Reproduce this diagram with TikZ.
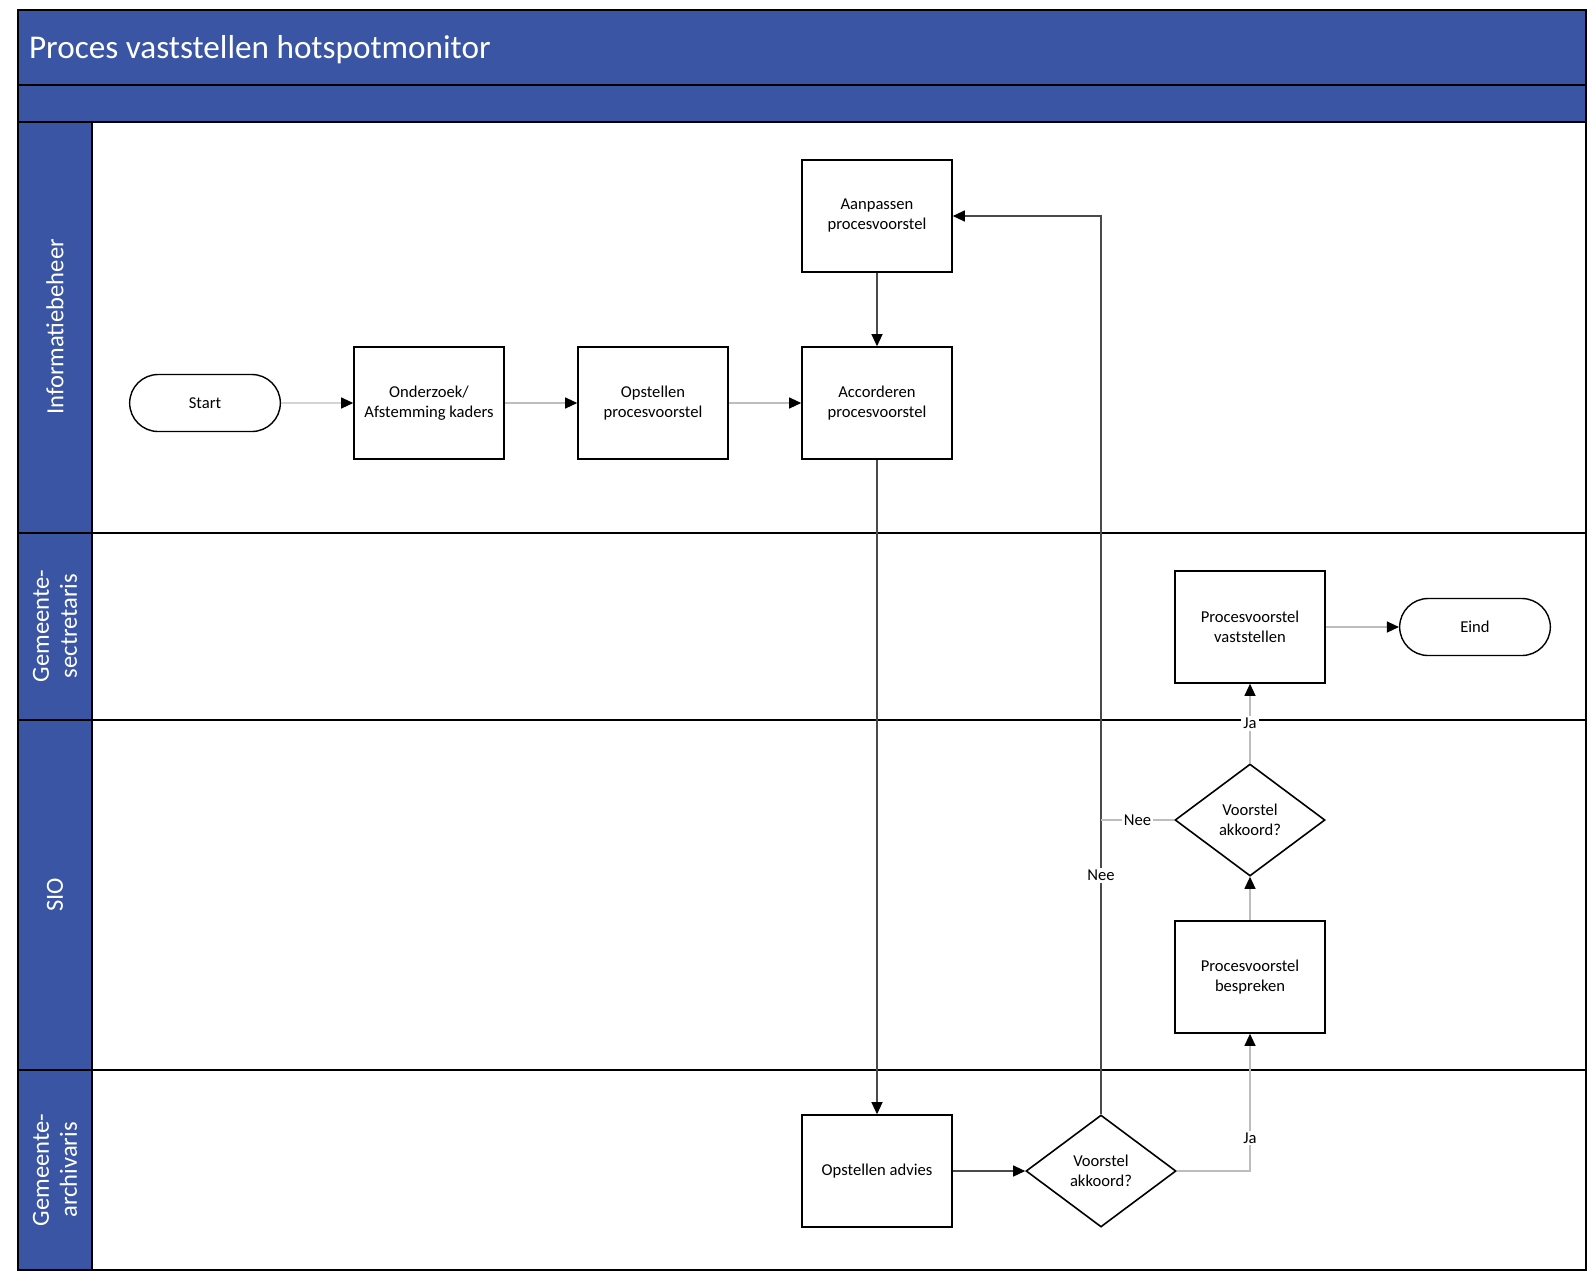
\documentclass[tikz,border=0pt]{standalone}
\usepackage{fontspec}
\setmainfont{Carlito}
\usetikzlibrary{arrows.meta, positioning, shapes.geometric, shapes.misc}
\definecolor{laneblue}{HTML}{3A55A4}
\definecolor{lightline}{HTML}{BDBDBD}
\definecolor{darkline}{HTML}{4A4A4A}

\begin{document}
\begin{tikzpicture}[x=0.5pt, y=-0.5pt,
    procbox/.style={draw, line width=0.8pt, minimum width=75pt, minimum height=56pt, inner sep=1pt, align=center, font=\fontsize{8.3}{10}\selectfont},
    terminal/.style={draw, rounded rectangle, line width=0.7pt, minimum width=82pt, minimum height=28.5pt, font=\fontsize{8.3}{10}\selectfont},
    decision/.style={draw, diamond, aspect=1.34, line width=0.8pt, minimum width=75pt, minimum height=56pt, inner sep=0pt, align=center, font=\fontsize{8.3}{10}\selectfont},
    lanetitle/.style={text=white, rotate=90, align=center, font=\fontsize{12.3}{14}\selectfont},
    flow/.style={lightline, line width=0.6pt, -{Triangle[length=6pt, width=5.5pt, color=black]}},
    flowdark/.style={flow, darkline},
    edgelabel/.style={fill=white, inner sep=1pt, text=black, font=\fontsize{8.3}{10}\selectfont}
]
\useasboundingbox (0,0) rectangle (1596,1281);

% Pool and lanes
\fill[laneblue] (18,10) rectangle (1586,122);
\fill[laneblue] (18,122) rectangle (92,1270);
\draw[line width=0.9pt] (18,10) rectangle (1586,1270);
\draw[line width=0.9pt] (18,85) -- (1586,85);
\foreach \y in {122,533,720,1070} {
    \draw[line width=0.9pt] (18,\y) -- (1586,\y);
}
\draw[line width=0.9pt] (92,122) -- (92,1270);

\node[anchor=west, text=white, font=\fontsize{16.6}{18}\selectfont] (title) at (22,50) {Proces vaststellen hotspotmonitor};

\node[lanetitle] (lane_ib) at (55,327) {Informatiebeheer};
\node[lanetitle] (lane_gs) at (55,626) {Gemeente-\\sectretaris};
\node[lanetitle] (lane_sio) at (55,895) {SIO};
\node[lanetitle] (lane_ga) at (55,1170) {Gemeente-\\archivaris};

% Steps
\node[terminal] (start) at (205,403) {Start};
\node[procbox] (onderzoek) at (429,403) {Onderzoek/\\Afstemming kaders};
\node[procbox] (opstellen) at (653,403) {Opstellen\\procesvoorstel};
\node[procbox] (accorderen) at (877,403) {Accorderen\\procesvoorstel};
\node[procbox] (aanpassen) at (877,216) {Aanpassen\\procesvoorstel};
\node[procbox] (advies) at (877,1171) {Opstellen advies};
\node[decision] (akkoord_ga) at (1101,1171) {Voorstel\\akkoord?};
\node[procbox] (bespreken) at (1250,977) {Procesvoorstel\\bespreken};
\node[decision] (akkoord_sio) at (1250,820) {Voorstel\\akkoord?};
\node[procbox] (vaststellen) at (1250,627) {Procesvoorstel\\vaststellen};
\node[terminal] (eind) at (1475,627) {Eind};

% Arrows
\draw[flow] (start) -- (onderzoek);
\draw[flow] (onderzoek) -- (opstellen);
\draw[flow] (opstellen) -- (accorderen);
\draw[flowdark] (aanpassen) -- (accorderen);
\draw[flowdark] (accorderen) -- (advies);
\draw[flowdark] (advies) -- (akkoord_ga);
\draw[flow] (akkoord_ga.east) -| node[edgelabel, pos=0.62] {Ja} (bespreken.south);
\draw[flowdark] (akkoord_ga.north) |- node[edgelabel, pos=0.133] {Nee} (aanpassen.east);
\draw[flow] (bespreken) -- (akkoord_sio);
\draw[flow] (akkoord_sio) -- node[edgelabel] {Ja} (vaststellen);
\draw[lightline, line width=0.6pt] (akkoord_sio.west) -- node[edgelabel] {Nee} (akkoord_sio.west -| akkoord_ga.north);
\draw[flow] (vaststellen) -- (eind);

\end{tikzpicture}
\end{document}
